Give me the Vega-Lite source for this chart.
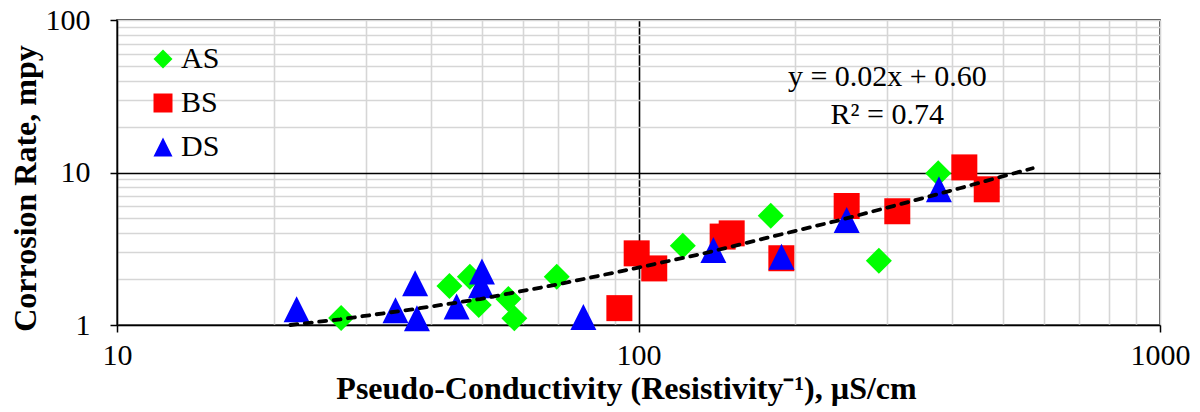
{
  "$schema": "https://vega.github.io/schema/vega-lite/v6.json",
  "autosize": {"type": "none"},
  "padding": {"left": 117, "top": 20, "right": 40, "bottom": 87},
  "width": 1043,
  "height": 305,
  "background": "white",
  "config": {
    "view": {"stroke": "black", "strokeWidth": 1.5},
    "font": "Liberation Serif"
  },
  "datasets": {
    "points": [
      {"series": "AS", "conductivity": 26.9, "rate": 1.11},
      {"series": "AS", "conductivity": 43.4, "rate": 1.80},
      {"series": "AS", "conductivity": 47.5, "rate": 2.07},
      {"series": "AS", "conductivity": 49.4, "rate": 1.35},
      {"series": "AS", "conductivity": 56.3, "rate": 1.48},
      {"series": "AS", "conductivity": 57.8, "rate": 1.106},
      {"series": "AS", "conductivity": 69.7, "rate": 2.07},
      {"series": "AS", "conductivity": 121.6, "rate": 3.31},
      {"series": "AS", "conductivity": 179.3, "rate": 5.21},
      {"series": "AS", "conductivity": 289, "rate": 2.64},
      {"series": "AS", "conductivity": 375.6, "rate": 9.88},
      {"series": "BS", "conductivity": 91.9, "rate": 1.29},
      {"series": "BS", "conductivity": 99.2, "rate": 2.95},
      {"series": "BS", "conductivity": 107.2, "rate": 2.35},
      {"series": "BS", "conductivity": 145, "rate": 3.80},
      {"series": "BS", "conductivity": 150.9, "rate": 3.99},
      {"series": "BS", "conductivity": 187.9, "rate": 2.74},
      {"series": "BS", "conductivity": 250.7, "rate": 6.03},
      {"series": "BS", "conductivity": 313.5, "rate": 5.57},
      {"series": "BS", "conductivity": 421.5, "rate": 10.8},
      {"series": "BS", "conductivity": 465.3, "rate": 7.76},
      {"series": "DS", "conductivity": 22.1, "rate": 1.27},
      {"series": "DS", "conductivity": 34.2, "rate": 1.25},
      {"series": "DS", "conductivity": 37.3, "rate": 1.88},
      {"series": "DS", "conductivity": 37.6, "rate": 1.106},
      {"series": "DS", "conductivity": 44.8, "rate": 1.32},
      {"series": "DS", "conductivity": 50.1, "rate": 2.24},
      {"series": "DS", "conductivity": 49.9, "rate": 1.82},
      {"series": "DS", "conductivity": 78.4, "rate": 1.13},
      {"series": "DS", "conductivity": 139.2, "rate": 3.10},
      {"series": "DS", "conductivity": 188, "rate": 2.80},
      {"series": "DS", "conductivity": 250.7, "rate": 4.88},
      {"series": "DS", "conductivity": 376.8, "rate": 7.76}
    ],
    "trend": [
      {"conductivity": 21.5, "rate": 1.0},
      {"conductivity": 26.8, "rate": 1.09},
      {"conductivity": 37.0, "rate": 1.27},
      {"conductivity": 49.7, "rate": 1.48},
      {"conductivity": 61.5, "rate": 1.70},
      {"conductivity": 69.7, "rate": 1.84},
      {"conductivity": 99.9, "rate": 2.38},
      {"conductivity": 133, "rate": 2.94},
      {"conductivity": 177, "rate": 3.74},
      {"conductivity": 243, "rate": 4.87},
      {"conductivity": 332, "rate": 6.45},
      {"conductivity": 413, "rate": 7.88},
      {"conductivity": 493, "rate": 9.33},
      {"conductivity": 570, "rate": 10.66}
    ],
    "labels": [
      {"text": "y = 0.02x + 0.60", "conductivity": 300, "rate": 42.5},
      {"text": "R² = 0.74", "conductivity": 300, "rate": 23.8}
    ]
  },
  "layer": [
    {
      "data": {"name": "points"},
      "mark": {"type": "point", "filled": true, "opacity": 1, "size": 676, "strokeWidth": 0},
      "encoding": {
        "x": {
          "field": "conductivity", "type": "quantitative",
          "scale": {"type": "log", "domain": [10, 1000], "nice": false},
          "axis": {
            "title": "Pseudo-Conductivity (Resistivity⁻¹), µS/cm",
            "values": [10, 20, 30, 40, 50, 60, 70, 80, 90, 100, 200, 300, 400, 500, 600, 700, 800, 900, 1000],
            "format": "d",
            "labelExpr": "(datum.value == 10 || datum.value == 100 || datum.value == 1000) ? datum.label : ''",
            "labelOverlap": false,
            "labelFont": "Liberation Serif", "labelFontSize": 30, "labelColor": "black",
            "labelPadding": 8,
            "labelFlush": false,
            "tickSize": 7, "tickWidth": 1.5, "tickColor": "black",
            "tickOpacity": {"condition": {"test": "datum.value == 10 || datum.value == 100 || datum.value == 1000", "value": 1}, "value": 0},
            "domainColor": "black", "domainWidth": 1.5,
            "grid": true,
            "gridColor": {"condition": {"test": "datum.value == 100", "value": "black"}, "value": "#d6d6d6"},
            "gridWidth": 1.6,
            "titleFont": "Liberation Serif", "titleFontSize": 32, "titleFontWeight": "bold", "titleColor": "black",
            "titleX": 509, "titleY": 63, "titleBaseline": "middle", "titleAlign": "center"
          }
        },
        "y": {
          "field": "rate", "type": "quantitative",
          "scale": {"type": "log", "domain": [1, 100], "nice": false},
          "axis": {
            "title": "Corrosion Rate, mpy",
            "values": [1, 2, 3, 4, 5, 6, 7, 8, 9, 10, 20, 30, 40, 50, 60, 70, 80, 90, 100],
            "format": "d",
            "labelExpr": "(datum.value == 1 || datum.value == 10 || datum.value == 100) ? datum.label : ''",
            "labelOverlap": false,
            "labelFont": "Liberation Serif", "labelFontSize": 30, "labelColor": "black",
            "labelPadding": 20,
            "labelFlush": false,
            "tickSize": 7, "tickWidth": 1.5, "tickColor": "black",
            "tickOpacity": {"condition": {"test": "datum.value == 1 || datum.value == 10 || datum.value == 100", "value": 1}, "value": 0},
            "domainColor": "black", "domainWidth": 1.5,
            "grid": true,
            "gridColor": {"condition": {"test": "datum.value == 10", "value": "black"}, "value": "#d6d6d6"},
            "gridWidth": 1.6,
            "titleFont": "Liberation Serif", "titleFontSize": 32, "titleFontWeight": "bold", "titleColor": "black",
            "titleAngle": -90, "titleX": -92, "titleY": 168, "titleBaseline": "middle", "titleAlign": "center"
          }
        },
        "color": {
          "field": "series", "type": "nominal",
          "scale": {"domain": ["AS", "BS", "DS"], "range": ["#00ff00", "#ff0000", "#0000ff"]},
          "legend": {
            "title": null,
            "orient": "none",
            "legendX": 31,
            "legendY": 24,
            "padding": 0,
            "symbolSize": 361,
            "symbolStrokeWidth": 0,
            "symbolOffset": 0,
            "labelOffset": 3,
            "rowPadding": 14,
            "labelFont": "Liberation Serif",
            "labelFontSize": 30,
            "labelColor": "black"
          }
        },
        "shape": {
          "field": "series", "type": "nominal",
          "scale": {"domain": ["AS", "BS", "DS"], "range": ["diamond", "square", "M0,-1L1,1L-1,1Z"]}
        }
      }
    },
    {
      "data": {"name": "trend"},
      "mark": {"type": "line", "color": "black", "strokeWidth": 3.8, "strokeDash": [7, 7.5], "strokeCap": "round"},
      "encoding": {
        "x": {"field": "conductivity", "type": "quantitative"},
        "y": {"field": "rate", "type": "quantitative"}
      }
    },
    {
      "data": {"name": "labels"},
      "mark": {"type": "text", "font": "Liberation Serif", "fontSize": 30, "color": "black", "align": "center", "baseline": "middle"},
      "encoding": {
        "x": {"field": "conductivity", "type": "quantitative"},
        "y": {"field": "rate", "type": "quantitative"},
        "text": {"field": "text"}
      }
    }
  ]
}
